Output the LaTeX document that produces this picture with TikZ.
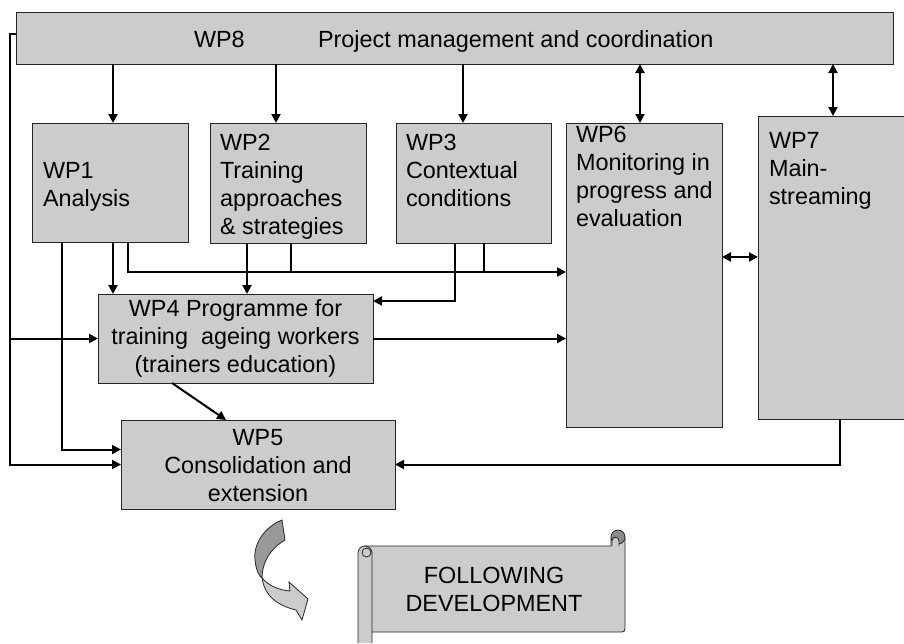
\documentclass[tikz,border=0pt]{standalone}
\usepackage{fontspec}
\setmainfont{Liberation Sans}
\usetikzlibrary{arrows.meta}
\definecolor{boxgray}{HTML}{CCCCCC}
\definecolor{curldark}{HTML}{999999}
\definecolor{rolldark}{HTML}{8C8C8C}
\begin{document}
\begin{tikzpicture}[x=1pt,y=-1pt,
  wpbox/.style={draw=black!85,line width=1pt,fill=boxgray,inner sep=0pt,outer sep=0pt},
  lbl/.style={font=\fontsize{23.4}{28}\selectfont,inner sep=0pt,outer sep=0pt,align=left,anchor=base west},
  clbl/.style={font=\fontsize{23.4}{28}\selectfont,inner sep=0pt,outer sep=0pt,align=center,anchor=base},
  conn/.style={line width=2pt,black},
  arr/.style={conn,-{Triangle[length=9pt,width=9pt]}},
  darr/.style={conn,{Triangle[length=9pt,width=9pt]}-{Triangle[length=9pt,width=9pt]}},
  shapeline/.style={draw=black!85,line width=0.8pt},
]
\useasboundingbox (0,0) rectangle (904,643);
\clip (0,0) rectangle (904,643);

% boxes
\node[wpbox,minimum width=877pt,minimum height=52pt] (wp8) at (454.5,38) {};
\node[wpbox,minimum width=156pt,minimum height=119pt] (wp1) at (110,182.5) {};
\node[wpbox,minimum width=156pt,minimum height=120pt] (wp2) at (288,183) {};
\node[wpbox,minimum width=155pt,minimum height=120pt] (wp3) at (473.5,183) {};
\node[wpbox,minimum width=156pt,minimum height=304pt] (wp6) at (644,275) {};
\node[wpbox,minimum width=154pt,minimum height=303pt] (wp7) at (835,267.5) {};
\node[wpbox,minimum width=275pt,minimum height=89pt] (wp4) at (235.5,338.5) {};
\node[wpbox,minimum width=274pt,minimum height=89pt] (wp5) at (258,464.5) {};

% texts (anchored at the baseline of their last line)
\node[lbl] (t8a) at (194,47) {WP8};
\node[lbl] (t8b) at (318,47) {Project management and coordination};
\node[lbl] (t1) at (43,206) {WP1\\Analysis};
\node[lbl] (t2) at (220,234) {WP2\\Training\\approaches\\\& strategies};
\node[lbl] (t3) at (406,206) {WP3\\Contextual\\conditions};
\node[lbl] (t6) at (576,226) {WP6\\Monitoring in\\progress and\\evaluation};
\node[lbl] (t7) at (769,204) {WP7\\Main-\\streaming};
\node[clbl] (t4) at (235.5,372) {WP4 Programme for\\training\ \ ageing workers\\(trainers education)};
\node[clbl] (t5) at (258,501) {WP5\\Consolidation and\\extension};

% helper coordinates
\coordinate (lft) at ([xshift=-6pt]wp8.west);
\coordinate (bus) at ([yshift=3pt]wp6.west);

% connectors from WP8
\draw[arr] ([xshift=3pt]wp1.north |- wp8.south) -- ([xshift=3pt]wp1.north);
\draw[arr] ([xshift=-12pt]wp2.north |- wp8.south) -- ([xshift=-12pt]wp2.north);
\draw[arr] ([xshift=-10.5pt]wp3.north |- wp8.south) -- ([xshift=-10.5pt]wp3.north);
\draw[darr] ([xshift=-4pt]wp6.north |- wp8.south) -- ([xshift=-4pt]wp6.north);
\draw[darr] ([xshift=-2pt]wp7.north |- wp8.south) -- ([xshift=-2pt]wp7.north);
\draw[darr] ([yshift=18pt]wp6.east) -- ([yshift=18pt]wp6.east -| wp7.west);

% left rail
\draw[arr] ([yshift=4pt]wp8.west) -- ++(-6,0) |- (wp5.west);
\draw[arr] (lft |- wp4.west) -- (wp4.west);

% from WP1
\draw[arr] ([xshift=-48pt]wp1.south) |- ([yshift=15pt]wp5.west);
\draw[arr] ([xshift=3pt]wp1.south) -- ([xshift=3pt]wp1.south |- wp4.north);
\draw[arr] ([xshift=18pt]wp1.south) |- (bus);
% from WP2
\draw[conn] ([xshift=3pt]wp2.south) -- ([xshift=3pt]wp2.south |- bus);
\draw[arr] ([xshift=-41pt]wp2.south) -- ([xshift=-41pt]wp2.south |- wp4.north);
% from WP3
\draw[conn] ([xshift=10.5pt]wp3.south) -- ([xshift=10.5pt]wp3.south |- bus);
\draw[arr] ([xshift=-18.5pt]wp3.south) |- ([yshift=37.5pt]wp4.east);
% from WP4
\draw[arr] (wp4.east) -- (wp4.east -| wp6.west);
\draw[arr] ([xshift=-63.5pt]wp4.south) -- ([xshift=-32pt]wp5.north);
% from WP7
\draw[arr] ([xshift=5pt]wp7.south) |- (wp5.east);

% curved arrow
\draw[shapeline,fill=curldark] (282,520) .. controls (264,527) and (253,545) .. (255,560)
  .. controls (256,570) and (259,576) .. (262,578)
  .. controls (262,565) and (268,550) .. (285,540) -- cycle;
\draw[shapeline,fill=boxgray] (262,578) .. controls (268,585) and (278,590) .. (290,591)
  -- (289,582) -- (308,599) -- (302,620) -- (296,610)
  .. controls (280,606) and (265,598) .. (262,578) -- cycle;

% scroll
\draw[shapeline,fill=boxgray] (365,546) -- (611,546) -- (611,538) -- (625,538) -- (625,625)
  .. controls (625,632) .. (618,632) -- (365,632) -- cycle;
\draw[shapeline,fill=rolldark] (618,537) circle[radius=7];
\draw[shapeline,fill=boxgray] (612,546) -- (612,541) .. controls (612,536) and (619,536) .. (619,541) -- (619,546);
\draw[shapeline,fill=boxgray,rounded corners=7pt] (358,643) -- (358,546) -- (372,546) -- (372,643);
\draw[shapeline,fill=boxgray] (366.5,552.5) circle[radius=4.5];
\node[clbl] (tf) at (494,611) {FOLLOWING\\DEVELOPMENT};
\end{tikzpicture}
\end{document}
